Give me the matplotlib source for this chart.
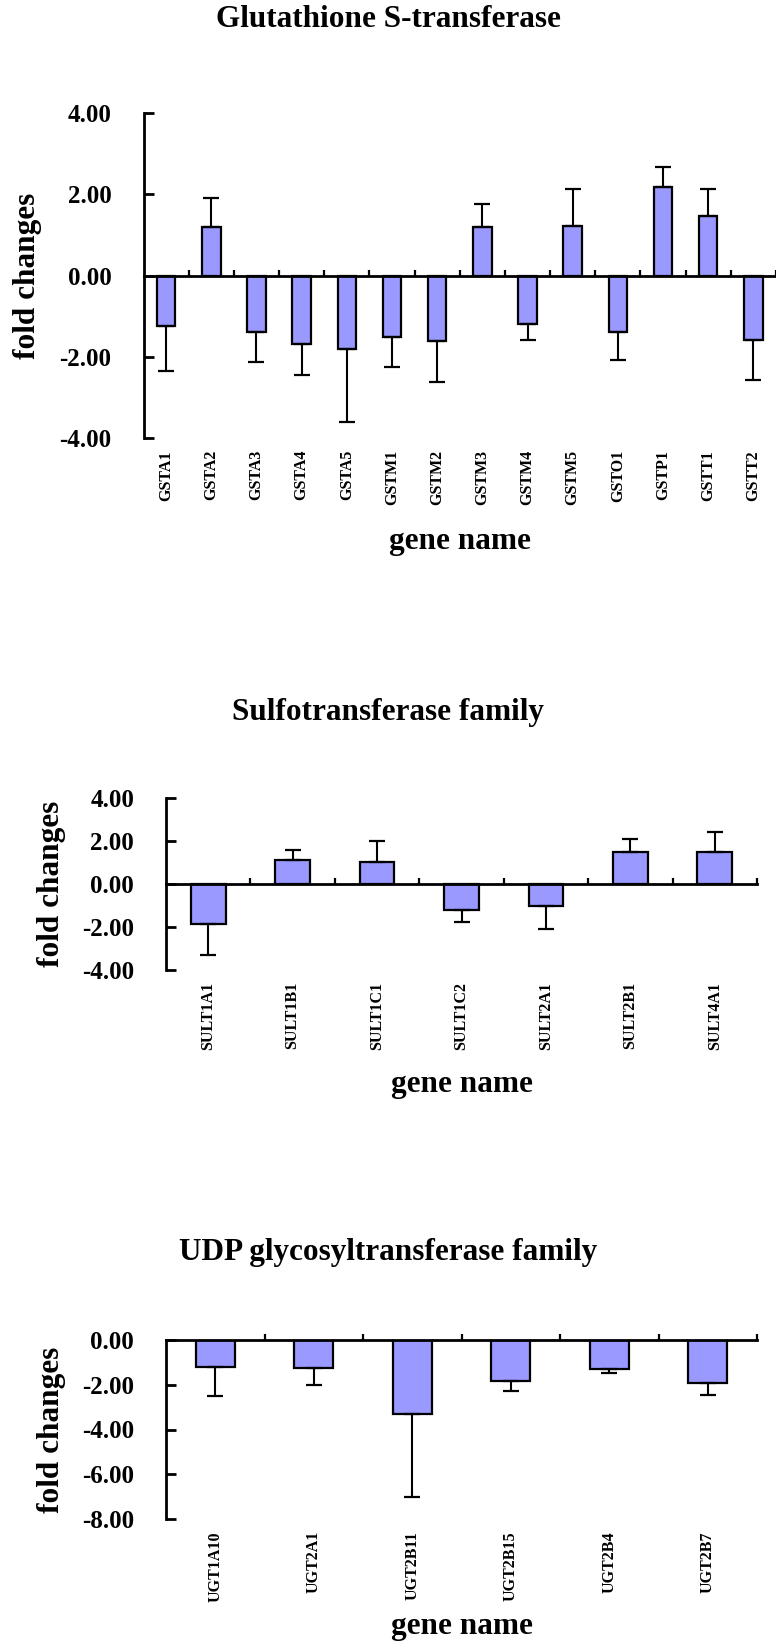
import matplotlib
matplotlib.use("Agg")
import matplotlib.pyplot as plt
from matplotlib.ticker import FormatStrFormatter

plt.rcParams['font.family'] = ['Liberation Serif', 'DejaVu Serif']
plt.rcParams['font.weight'] = 'bold'
plt.rcParams['axes.unicode_minus'] = False

# mean fold change and one-sided error for each gene
gst_genes = ["GSTA1", "GSTA2", "GSTA3", "GSTA4", "GSTA5", "GSTM1", "GSTM2",
             "GSTM3", "GSTM4", "GSTM5", "GSTO1", "GSTP1", "GSTT1", "GSTT2"]
gst_fold = [-1.24, 1.19, -1.39, -1.68, -1.82, -1.51, -1.60,
            1.19, -1.19, 1.21, -1.38, 2.18, 1.47, -1.58]
gst_err = [1.12, 0.71, 0.75, 0.76, 1.79, 0.75, 1.02,
           0.57, 0.39, 0.92, 0.71, 0.49, 0.65, 1.00]

sult_genes = ["SULT1A1", "SULT1B1", "SULT1C1", "SULT1C2", "SULT2A1", "SULT2B1", "SULT4A1"]
sult_fold = [-1.88, 1.12, 1.01, -1.23, -1.01, 1.51, 1.48]
sult_err = [1.40, 0.44, 0.97, 0.56, 1.06, 0.58, 0.95]

ugt_genes = ["UGT1A10", "UGT2A1", "UGT2B11", "UGT2B15", "UGT2B4", "UGT2B7"]
ugt_fold = [-1.20, -1.23, -3.29, -1.83, -1.31, -1.92]
ugt_err = [1.31, 0.79, 3.73, 0.46, 0.16, 0.56]

W, H = 776, 1644
BAR = '#9999ff'


def px(x0, y_top, x1, y_bot):
    return [x0 / W, 1 - y_bot / H, (x1 - x0) / W, (y_bot - y_top) / H]


def fold_panel(fig, rect, genes, fold, err, ylim, yticks, xmax, width,
               title, title_y, xlabel_y, ylabel_x):
    ax = fig.add_axes(rect)
    x = list(range(len(genes)))
    ax.bar(x, fold, width=width, color=BAR, edgecolor='black', linewidth=1.6, zorder=2)
    lower = [e if v < 0 else 0 for v, e in zip(fold, err)]
    upper = [e if v >= 0 else 0 for v, e in zip(fold, err)]
    ax.errorbar(x, fold, yerr=[lower, upper], fmt='none', ecolor='black',
                elinewidth=1.5, capsize=5.5, capthick=1.6, zorder=3)

    ax.set_xlim(-0.5, xmax)
    ax.set_ylim(*ylim)
    ax.set_yticks(yticks)
    ax.yaxis.set_major_formatter(FormatStrFormatter('%.2f'))
    ax.set_xticks([i + 0.5 for i in range(len(genes))])

    for s in ('top', 'right'):
        ax.spines[s].set_visible(False)
    ax.spines['bottom'].set_position(('data', 0))
    ax.spines['bottom'].set_linewidth(2.0)
    ax.spines['left'].set_linewidth(2.0)
    ax.spines['bottom'].set_zorder(4)

    ax.tick_params(axis='x', direction='in', length=4.5, width=1.6, labelbottom=False)
    ax.tick_params(axis='y', direction='in', length=7, width=2.0, pad=23, labelsize=18)

    for i, g in enumerate(genes):
        ax.annotate(g, xy=(i, 0), xycoords=('data', 'axes fraction'),
                    xytext=(0, -12), textcoords='offset pixels',
                    rotation=90, ha='center', va='top', fontsize=11.5)

    cx = rect[0] + rect[2] / 2
    fig.text(0.5, 1 - title_y / H, title, ha='center', va='baseline', fontsize=22.5)
    fig.text(cx, 1 - xlabel_y / H, 'gene name', ha='center', va='baseline', fontsize=22.5)
    fig.text(ylabel_x / W, rect[1] + rect[3] / 2, 'fold changes', rotation=90,
             ha='center', va='center', fontsize=22.5)
    return ax


fig = plt.figure(figsize=(W / 100, H / 100), dpi=100)

fold_panel(fig, px(143.5, 113, 776, 438), gst_genes, gst_fold, gst_err,
           (-4, 4), [-4, -2, 0, 2, 4], 13.42, 0.41,
           'Glutathione S-transferase', 27, 549, 28)

fold_panel(fig, px(166, 798, 757, 970), sult_genes, sult_fold, sult_err,
           (-4, 4), [-4, -2, 0, 2, 4], 6.5, 0.41,
           'Sulfotransferase family', 720, 1092, 52)

fold_panel(fig, px(166, 1340, 757, 1519), ugt_genes, ugt_fold, ugt_err,
           (-8, 0), [-8, -6, -4, -2, 0], 5.5, 0.40,
           'UDP glycosyltransferase family', 1260, 1634, 52)

fig.savefig('out.png', dpi=100)
